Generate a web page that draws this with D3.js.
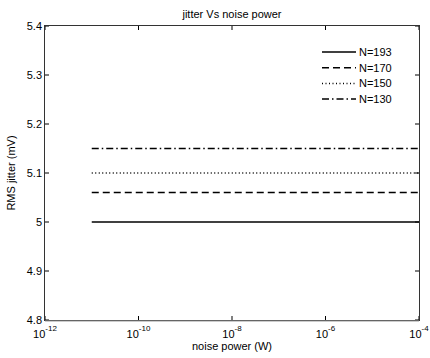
<!DOCTYPE html>
<html>
<head>
<meta charset="utf-8">
<script src="https://cdnjs.cloudflare.com/ajax/libs/d3/7.8.5/d3.min.js"></script>
<style>
  body { margin: 0; background: #fff; }
  text { font-family: "Liberation Sans", Arial, sans-serif; fill: #000; }
</style>
</head>
<body>
<div id="chart"></div>
<script>
// data
const seriesNames = ["N=193", "N=170", "N=150", "N=130"];
const seriesValues = [5.0, 5.06, 5.1, 5.15];
const noisePower = [1e-11, 1e-4];
const xTickExps = [-12, -10, -8, -6, -4];
const yTicks = [4.8, 4.9, 5.0, 5.1, 5.2, 5.3, 5.4];
const dashes = ["none", "7,4", "1,2.5", "7,3,1.5,3"];

const W = 430, H = 358;
const margin = {left: 45, right: 11, top: 26, bottom: 38};
const iw = W - margin.left - margin.right,
    ih = H - margin.top - margin.bottom;

let svg = d3.select("#chart").append("svg")
    .attr("width", W).attr("height", H);

let x = d3.scaleLog().domain([1e-12, 1e-4]).range([0, iw]);
let y = d3.scaleLinear().domain([4.8, 5.4]).range([ih, 0]);

let g = svg.append("g").attr("transform", `translate(${margin.left},${margin.top})`);

// ticks inside, all four sides (matlab box)
let tl = 4;
xTickExps.forEach(function (e) {
    let px = x(Math.pow(10, e));
    g.append("line").attr("x1", px).attr("x2", px).attr("y1", ih).attr("y2", ih - tl).attr("stroke", "#000");
    g.append("line").attr("x1", px).attr("x2", px).attr("y1", 0).attr("y2", tl).attr("stroke", "#000");
    let t = g.append("text").attr("x", px).attr("y", ih + 18)
        .attr("text-anchor", "middle").attr("font-size", 11);
    t.append("tspan").text("10");
    t.append("tspan").attr("dy", -7).attr("font-size", 8).text(e);
});
yTicks.forEach(function (v) {
    let py = y(v);
    g.append("line").attr("x1", 0).attr("x2", tl).attr("y1", py).attr("y2", py).attr("stroke", "#000");
    g.append("line").attr("x1", iw).attr("x2", iw - tl).attr("y1", py).attr("y2", py).attr("stroke", "#000");
    g.append("text").attr("x", -3).attr("y", py + 4)
        .attr("text-anchor", "end").attr("font-size", 11)
        .text(v === 5 ? "5" : d3.format(".1f")(v));
});

// series
let line = d3.line().x(d => x(d[0])).y(d => y(d[1]));
seriesValues.forEach(function (v, i) {
    g.append("path")
        .datum(noisePower.map(p => [p, v]))
        .attr("d", line)
        .attr("fill", "none")
        .attr("stroke", "#000")
        .attr("stroke-width", 1.5)
        .attr("stroke-dasharray", dashes[i]);
});

// frame
g.append("rect").attr("x", -0.5).attr("y", -0.5).attr("width", iw + 1).attr("height", ih + 1)
    .attr("fill", "none").attr("stroke", "#333").attr("stroke-width", 1);
g.append("line").attr("x1", 0).attr("x2", iw).attr("y1", ih + 1).attr("y2", ih + 1)
    .attr("stroke", "#999").attr("stroke-width", 1);

// legend
let lg = svg.append("g").attr("transform", "translate(322,52)");
seriesNames.forEach(function (n, i) {
    let ly = i * 15.7;
    lg.append("line").attr("x1", 0).attr("x2", 34).attr("y1", ly).attr("y2", ly)
        .attr("stroke", "#000").attr("stroke-width", 1.5)
        .attr("stroke-dasharray", dashes[i]);
    lg.append("text").attr("x", 37).attr("y", ly + 4).attr("font-size", 11).text(n);
});

// titles
svg.append("text").attr("x", margin.left + iw / 2).attr("y", 18)
    .attr("text-anchor", "middle").attr("font-size", 11).text("jitter Vs noise power");
svg.append("text").attr("x", margin.left + iw / 2).attr("y", 350)
    .attr("text-anchor", "middle").attr("font-size", 11).text("noise power (W)");
svg.append("text").attr("transform", `translate(15,${margin.top + ih / 2}) rotate(-90)`)
    .attr("text-anchor", "middle").attr("font-size", 11).text("RMS jitter (mV)");
</script>
</body>
</html>
